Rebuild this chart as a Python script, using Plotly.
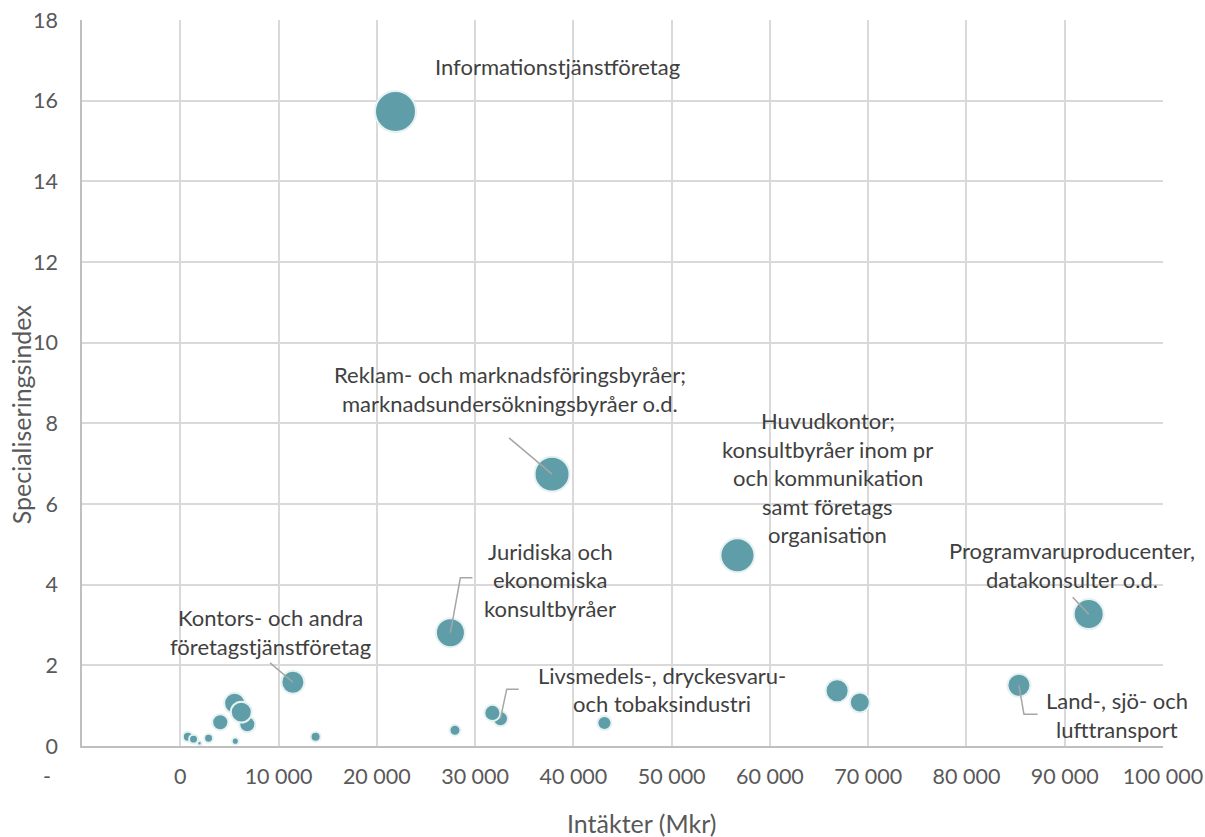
import plotly.graph_objects as go

# Intäkter (Mkr), specialiseringsindex och relativ bubbelstorlek per bransch
intakter = [21900, 37830, 56700, 92440, 27490, 11460, 85340, 66840, 69150,
            43160, 32580, 31760, 27950, 5530, 6820, 4070, 6210,
            770, 1350, 1960, 2880, 5600, 13770]
index = [15.73, 6.74, 4.73, 3.27, 2.81, 1.58, 1.505, 1.37, 1.08,
         0.57, 0.68, 0.82, 0.39, 1.06, 0.54, 0.59, 0.84,
         0.23, 0.17, 0.07, 0.19, 0.12, 0.23]
storlek = [168, 122, 116, 90, 84, 53, 53, 53, 40,
           20, 23, 26, 12, 44, 26, 26, 44,
           10, 8, 2, 8, 5, 10]

# Etiketter: text, etikettens mittpunkt (x, y)
etiketter = [
    ("Informationstjänstföretag", 38360, 16.84),
    ("Reklam- och marknadsföringsbyråer;\nmarknadsundersökningsbyråer o.d.", 33520, 8.85),
    ("Huvudkontor;\nkonsultbyråer inom pr\noch kommunikation\nsamt företags\norganisation", 65900, 6.65),
    ("Programvaruproducenter,\ndatakonsulter o.d.", 90740, 4.49),
    ("Juridiska och\nekonomiska\nkonsultbyråer", 37650, 4.12),
    ("Kontors- och andra\nföretagstjänstföretag", 9190, 2.83),
    ("Livsmedels-, dryckesvaru-\noch tobaksindustri", 49050, 1.40),
    ("Land-, sjö- och\nlufttransport", 95290, 0.77),
]

# Hänvisningslinjer: brytpunkter från etikett till bubblans index i listorna ovan
linjer = [
    ([(9140, 2.06)], 5),
    ([(33450, 7.64)], 1),
    ([(29730, 4.17), (28500, 4.17)], 4),
    ([(34440, 1.41), (33220, 1.41)], 10),
    ([(90810, 3.69)], 3),
    ([(87240, 0.79), (85850, 0.79)], 6),
]

x_ticks = list(range(0, 100001, 10000))
y_ticks = list(range(0, 19, 2))

FONT = "Lato, Carlito, Calibri, sans-serif"
TICK_COLOR = "#595959"
LABEL_COLOR = "#404040"
GRID = "#D9D9D9"
LABEL_SIZE = 22
TICK_SIZE = 21.5
TITLE_SIZE = 25

fig = go.Figure()
fig.add_trace(go.Scatter(
    x=intakter, y=index, mode="markers",
    marker=dict(size=storlek, sizemode="area",
                sizeref=2 * max(storlek) / 41 ** 2,
                color="#5F9EA8", opacity=1,
                line=dict(color="#E6F1F2", width=2)),
    hoverinfo="x+y", showlegend=False,
))

# Hänvisningslinjer ovanpå bubblorna
for punkter, i in linjer:
    pts = punkter + [(intakter[i], index[i])]
    path = "M " + " L ".join(f"{px},{py}" for px, py in pts)
    fig.add_shape(type="path", path=path, xref="x", yref="y", layer="above",
                  line=dict(color="#A6A6A6", width=1.5))

# Etiketter, en rad i taget
LINE_H = 28.5
for text, lx, ly in etiketter:
    rader = text.split("\n")
    n = len(rader)
    for k, rad in enumerate(rader):
        fig.add_annotation(x=lx, y=ly, xref="x", yref="y", text=rad,
                           showarrow=False, xanchor="center", yanchor="middle",
                           yshift=((n - 1) / 2 - k) * LINE_H,
                           font=dict(family=FONT, size=LABEL_SIZE, color=LABEL_COLOR))

# Etikett för axelns vänstra ände
fig.add_annotation(x=-10000, y=0, xref="x", yref="y", text="-", showarrow=False,
                   xshift=-35, yshift=-30,
                   font=dict(family=FONT, size=TICK_SIZE, color=TICK_COLOR))

# Axeltitlar
fig.add_annotation(x=0.518, y=-0.106, xref="paper", yref="paper",
                   text="Intäkter (Mkr)", showarrow=False,
                   xanchor="center", yanchor="middle",
                   font=dict(family=FONT, size=TITLE_SIZE, color=TICK_COLOR))
fig.add_annotation(x=-0.0564, y=0.457, xref="paper", yref="paper",
                   text="Specialiseringsindex", showarrow=False, textangle=-90,
                   xanchor="center", yanchor="middle",
                   font=dict(family=FONT, size=TITLE_SIZE, color=TICK_COLOR))

fig.update_layout(
    width=1205, height=837,
    margin=dict(l=82, r=42, t=20, b=91, autoexpand=False),
    paper_bgcolor="white", plot_bgcolor="white",
    separators=", ",
    font=dict(family=FONT, color=TICK_COLOR),
    xaxis=dict(
        range=[-10000, 100000], tickvals=x_ticks, tickformat=",d",
        showgrid=True, gridcolor=GRID, gridwidth=1.5, zeroline=False,
        showline=True, linecolor="#BFBFBF", linewidth=1.5,
        ticks="", ticklabelstandoff=10,
        tickfont=dict(family=FONT, size=TICK_SIZE, color=TICK_COLOR),
    ),
    yaxis=dict(
        range=[0, 18], tickvals=y_ticks,
        showgrid=True, gridcolor=GRID, gridwidth=1.5, zeroline=False,
        showline=True, linecolor="#BFBFBF", linewidth=1.5,
        ticks="", ticklabelstandoff=18,
        tickfont=dict(family=FONT, size=TICK_SIZE, color=TICK_COLOR),
    ),
)

fig.write_html("out.html")
